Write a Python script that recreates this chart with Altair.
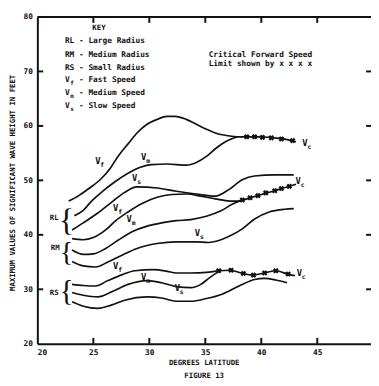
import altair as alt
import pandas as pd

# ---------------- data ----------------
# latitude (deg) / max significant wave height (ft)
rl_vf_x = [22.8, 23.7, 24.6, 25.7, 26.5, 27.2, 28.1, 28.9, 29.8, 30.7, 31.6, 32.3, 33.3, 34.2, 35.1, 35.9, 37.0, 37.9, 39.0, 39.9, 40.7, 41.6, 42.5, 43.1]
rl_vf_y = [46.2, 47.2, 48.5, 50.3, 52.2, 54.4, 56.7, 58.7, 60.3, 61.2, 61.75, 61.75, 61.2, 60.3, 59.4, 58.7, 58.2, 58.0, 58.0, 58.0, 57.9, 57.7, 57.4, 57.1]
rl_vm_x = [23.3, 24.1, 24.8, 25.9, 26.9, 28.1, 29.2, 30.2, 31.6, 33.3, 34.2, 35.1, 35.9, 36.8, 37.9]
rl_vm_y = [43.5, 44.5, 46.1, 48.1, 49.7, 51.3, 52.4, 52.9, 53.0, 52.8, 53.3, 54.4, 55.8, 57.1, 58.0]
rl_vs_x = [23.1, 24.1, 25.4, 26.7, 27.8, 28.9, 30.7, 32.4, 34.2, 35.9, 37.1, 38.3, 39.4, 41.2, 42.9]
rl_vs_y = [40.9, 42.2, 44.0, 46.1, 47.8, 48.8, 48.6, 48.0, 47.5, 47.1, 48.3, 50.1, 50.8, 51.0, 51.0]
rm_vf_x = [23.1, 24.1, 25.0, 26.1, 27.0, 28.1, 29.4, 30.7, 32.0, 33.3, 34.6, 35.9, 37.2, 37.9, 39.0, 39.7, 40.5, 41.2, 41.8, 42.5, 43.1]
rm_vf_y = [39.3, 39.1, 39.5, 40.9, 42.6, 44.2, 45.8, 46.9, 47.4, 47.5, 47.1, 46.6, 46.2, 46.2, 46.8, 47.2, 47.7, 48.1, 48.5, 48.9, 49.3]
rm_vm_x = [23.1, 24.1, 25.0, 26.1, 27.2, 28.5, 29.8, 31.1, 32.4, 33.7, 35.1, 36.4, 37.4, 38.1]
rm_vm_y = [37.2, 36.4, 36.5, 37.5, 39.0, 40.6, 41.6, 42.2, 42.6, 42.8, 43.4, 44.4, 45.6, 46.2]
rm_vs_x = [23.1, 24.1, 25.2, 26.3, 27.6, 28.9, 30.7, 32.4, 34.2, 35.3, 36.4, 37.4, 38.3, 39.4, 40.7, 42.1, 42.9]
rm_vs_y = [35.1, 34.3, 34.1, 35.0, 36.3, 37.5, 38.4, 38.7, 38.7, 38.6, 39.1, 40.0, 41.1, 42.9, 44.2, 44.7, 44.8]
rs_vf_x = [23.1, 24.1, 25.2, 26.3, 27.6, 28.7, 30.4, 31.6, 32.4, 33.7, 35.1, 36.2, 37.2, 38.2, 39.2, 40.3, 41.3, 42.5, 43.0]
rs_vf_y = [30.9, 30.7, 30.6, 31.6, 32.7, 33.4, 33.6, 33.3, 33.0, 33.0, 33.1, 33.4, 33.5, 33.0, 32.6, 33.0, 33.4, 32.7, 32.5]
rs_vm_x = [23.1, 24.1, 25.4, 26.7, 28.1, 29.8, 31.1, 32.4, 33.7, 34.6, 35.3, 36.2]
rs_vm_y = [29.4, 28.9, 28.6, 29.6, 30.9, 31.6, 31.2, 30.5, 30.3, 30.9, 32.0, 33.3]
rs_vs_x = [23.1, 24.1, 25.4, 26.6, 27.8, 29.8, 31.1, 32.4, 33.7, 35.1, 36.5, 38.1, 39.4, 40.3, 41.3, 42.3]
rs_vs_y = [27.7, 26.9, 26.5, 27.1, 28.0, 28.6, 28.4, 27.8, 27.8, 28.3, 29.1, 30.7, 31.8, 32.0, 31.7, 31.2]

# critical forward speed limit markers (x x x x)
crit_x = [38.7, 39.4, 40.1, 40.9, 41.8, 42.8,
          38.3, 39.0, 39.7, 40.4, 41.2, 41.8, 42.5,
          36.2, 37.3, 38.4, 39.3, 40.3, 41.3, 42.4]
crit_y = [58.0, 58.0, 57.9, 57.8, 57.6, 57.3,
          46.4, 46.8, 47.2, 47.7, 48.1, 48.5, 48.9,
          33.4, 33.5, 32.9, 32.6, 33.0, 33.4, 32.8]

# curve labels "V" with subscript
lab_x = [25.4, 29.5, 28.7, 27.0, 28.2, 34.3, 27.0, 29.5, 32.5, 43.9, 43.3, 43.4]
lab_y = [53.5, 54.2, 50.4, 44.9, 42.9, 40.4, 34.3, 32.3, 30.2, 56.8, 49.8, 33.0]
lab_sub = ["f", "m", "s", "f", "m", "s", "f", "m", "s", "c", "c", "c"]

# group brackets
grp_text = ["RL", "RM", "RS"]
grp_x = [21.5, 21.6, 21.5]
grp_y = [43.1, 37.5, 29.3]
brace_x = [22.6, 22.6, 22.6]
brace_y = [42.5, 36.9, 29.6]
brace_size = [33, 29, 30]

# key block
key_title = "KEY"
key_lines = ["RL - Large Radius", "RM - Medium Radius", "RS - Small Radius"]
key_lines_y = [75.6, 73.1, 70.7]
key_speed_sub = ["f", "m", "s"]
key_speed_text = ["- Fast Speed", "- Medium Speed", "- Slow Speed"]
key_speed_y = [68.4, 66.1, 63.7]
note_lines = ["Critical Forward Speed", "Limit shown by x x x x"]
note_y = [73.1, 71.3]

x_ticks = [20, 25, 30, 35, 40, 45]
y_ticks = [20, 30, 40, 50, 60, 70, 80]
x_inner = [25, 30, 35, 40, 45]
y_inner = [30, 40, 50, 60, 70]

# ---------------- build tables ----------------
curves = {
    "RL-Vf": (rl_vf_x, rl_vf_y), "RL-Vm": (rl_vm_x, rl_vm_y), "RL-Vs": (rl_vs_x, rl_vs_y),
    "RM-Vf": (rm_vf_x, rm_vf_y), "RM-Vm": (rm_vm_x, rm_vm_y), "RM-Vs": (rm_vs_x, rm_vs_y),
    "RS-Vf": (rs_vf_x, rs_vf_y), "RS-Vm": (rs_vm_x, rs_vm_y), "RS-Vs": (rs_vs_x, rs_vs_y),
}
rows = []
for name, (xs, ys) in curves.items():
    for i, (a, b) in enumerate(zip(xs, ys)):
        rows.append({"curve": name, "i": i, "lat": a, "h": b})
lines_df = pd.DataFrame(rows)
crit_df = pd.DataFrame({"lat": crit_x, "h": crit_y})
lab_df = pd.DataFrame({"lat": lab_x, "h": lab_y, "sub": lab_sub, "v": ["V"] * len(lab_x)})
grp_df = pd.DataFrame({"lat": grp_x, "h": grp_y, "t": grp_text})
brace_df = pd.DataFrame({"lat": brace_x, "h": brace_y, "fs": brace_size, "t": ["{"] * 3})
KX = 22.46
SX = 23.72
keyL_df = pd.DataFrame({"lat": [KX] * 3, "h": key_lines_y, "t": key_lines})
keyV_df = pd.DataFrame({"lat": [KX] * 3, "h": key_speed_y, "t": ["V"] * 3, "sub": key_speed_sub})
keyS_df = pd.DataFrame({"lat": [SX] * 3, "h": key_speed_y, "t": key_speed_text})
keyT_df = pd.DataFrame({"lat": [25.5], "h": [77.9], "t": [key_title]})
note_df = pd.DataFrame({"lat": [35.3] * 2, "h": note_y, "t": note_lines})
xt_df = pd.DataFrame({"lat": x_inner})
yt_df = pd.DataFrame({"h": y_inner})
one_df = pd.DataFrame({"a": [0]})

W, H = 341, 334
FONT = "DejaVu Sans Mono"
INK = "#111111"

xs_ = alt.Scale(domain=[20, 49.8], nice=False, zero=False)
ys_ = alt.Scale(domain=[20, 80], nice=False, zero=False)
xaxis = alt.Axis(values=x_ticks, ticks=False, tickSize=0, grid=False, domainWidth=2, domainColor=INK,
                 labelFont=FONT, labelFontSize=8, labelFontWeight="bold", labelColor=INK, labelPadding=5,
                 title=["DEGREES LATITUDE", "FIGURE 13"], titleFont=FONT, titleFontSize=7.5,
                 titleFontWeight="bold", titleColor=INK, titleLineHeight=13, titleBaseline="top",
                 titleY=15.5, titleX=170, titleAlign="center")
yaxis = alt.Axis(values=y_ticks, ticks=False, tickSize=0, grid=False, domainWidth=2, domainColor=INK,
                 labelFont=FONT, labelFontSize=8, labelFontWeight="bold", labelColor=INK, labelPadding=5,
                 title="MAXIMUM VALUES OF SIGNIFICANT WAVE HEIGHT IN FEET", titleFont=FONT,
                 titleFontSize=7.5, titleFontWeight="bold", titleColor=INK, titleAngle=270,
                 titleX=-25, titleY=169, titleAlign="center", titleBaseline="middle")
X = alt.X("lat:Q", scale=xs_, axis=xaxis)
Y = alt.Y("h:Q", scale=ys_, axis=yaxis)

lines = alt.Chart(lines_df).mark_line(interpolate="monotone", color=INK, strokeWidth=1.7).encode(
    x=X, y=Y, detail="curve:N", order="i:Q")
crit = alt.Chart(crit_df).mark_point(shape="cross", angle=45, filled=True, size=34, color=INK, opacity=1).encode(
    x=X, y=Y)
labV = alt.Chart(lab_df).mark_text(font=FONT, fontSize=9, fontWeight="bold", color=INK).encode(
    x=X, y=Y, text="v:N")
labS = alt.Chart(lab_df).mark_text(font=FONT, fontSize=6.5, fontWeight="bold", color=INK, dx=4.5, dy=4).encode(
    x=X, y=Y, text="sub:N")
grp = alt.Chart(grp_df).mark_text(font=FONT, fontSize=7.5, fontWeight="bold", color=INK).encode(
    x=X, y=Y, text="t:N")
braces = alt.Chart(brace_df).mark_text(font="Liberation Serif", color=INK, baseline="middle").encode(
    x=X, y=Y, text="t:N", size=alt.Size("fs:Q", scale=None, legend=None))
keyT = alt.Chart(keyT_df).mark_text(font=FONT, fontSize=7.5, fontWeight="bold", color=INK).encode(
    x=X, y=Y, text="t:N")
keyL = alt.Chart(keyL_df).mark_text(font=FONT, fontSize=8, fontWeight="bold", color=INK, align="left").encode(
    x=X, y=Y, text="t:N")
keyV = alt.Chart(keyV_df).mark_text(font=FONT, fontSize=8, fontWeight="bold", color=INK, align="left").encode(
    x=X, y=Y, text="t:N")
keyVs = alt.Chart(keyV_df).mark_text(font=FONT, fontSize=6, fontWeight="bold", color=INK, align="left", dx=5.5, dy=3).encode(
    x=X, y=Y, text="sub:N")
keyS = alt.Chart(keyS_df).mark_text(font=FONT, fontSize=8, fontWeight="bold", color=INK, align="left").encode(
    x=X, y=Y, text="t:N")
note = alt.Chart(note_df).mark_text(font=FONT, fontSize=8, fontWeight="bold", color=INK, align="left").encode(
    x=X, y=Y, text="t:N")

tick_top = alt.Chart(xt_df).mark_rule(color=INK, strokeWidth=2).encode(x=X, y=alt.value(0), y2=alt.value(6))
tick_bot = alt.Chart(xt_df).mark_rule(color=INK, strokeWidth=2).encode(x=X, y=alt.value(H - 6), y2=alt.value(H))
tick_left = alt.Chart(yt_df).mark_rule(color=INK, strokeWidth=2).encode(y=Y, x=alt.value(0), x2=alt.value(6))
tick_right = alt.Chart(yt_df).mark_rule(color=INK, strokeWidth=2).encode(y=Y, x=alt.value(W - 5), x2=alt.value(W))
top_frame = alt.Chart(one_df).mark_rule(color=INK, strokeWidth=2).encode(
    x=alt.value(0), x2=alt.value(W), y=alt.value(0))

chart = alt.layer(
    lines, crit, labV, labS, grp, braces, keyT, keyL, keyV, keyVs, keyS, note,
    tick_top, tick_bot, tick_left, tick_right, top_frame
).properties(
    width=W, height=H,
    padding={"left": 30, "top": 5, "right": 0, "bottom": 39},
    autosize=alt.AutoSizeParams(type="none"),
    background="white",
).configure_view(stroke=None)

chart.save("out.html", embed_options={"renderer": "svg", "actions": False})
